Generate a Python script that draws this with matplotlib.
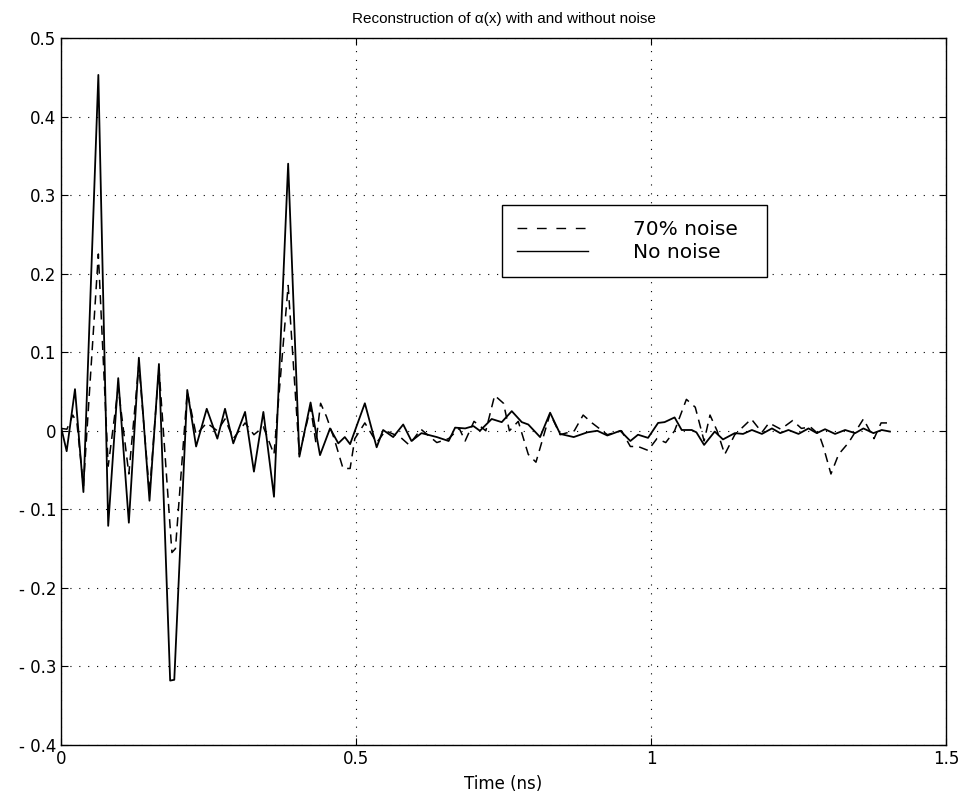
import matplotlib
matplotlib.use("Agg")
import matplotlib.pyplot as plt
from matplotlib.lines import Line2D

plt.rcParams['font.family'] = ['DejaVu Sans']

# ---- data ----
nonoise_x = [0.000, 0.0096, 0.0237, 0.038, 0.0633, 0.080, 0.097, 0.115, 0.132, 0.150,
             0.166, 0.185, 0.192, 0.214, 0.229, 0.247, 0.265, 0.278, 0.292, 0.312,
             0.327, 0.343, 0.361, 0.385, 0.404, 0.423, 0.439, 0.456, 0.470, 0.481,
             0.490, 0.515, 0.535, 0.546, 0.563, 0.580, 0.594, 0.611, 0.637, 0.657,
             0.668, 0.685, 0.699, 0.710, 0.730, 0.747, 0.764, 0.781, 0.792, 0.812,
             0.829, 0.846, 0.869, 0.892, 0.909, 0.926, 0.948, 0.965, 0.978, 0.995,
             1.012, 1.023, 1.040, 1.052, 1.069, 1.077, 1.090, 1.108, 1.122, 1.142,
             1.156, 1.171, 1.188, 1.205, 1.219, 1.233, 1.250, 1.267, 1.281, 1.295,
             1.312, 1.329, 1.346, 1.360, 1.377, 1.391, 1.405]
nonoise_y = [0.005, -0.026, 0.053, -0.078, 0.453, -0.121, 0.067, -0.117, 0.093, -0.089,
             0.085, -0.318, -0.317, 0.052, -0.020, 0.028, -0.010, 0.028, -0.016, 0.024,
             -0.052, 0.024, -0.084, 0.340, -0.033, 0.036, -0.031, 0.003, -0.016, -0.008,
             -0.017, 0.035, -0.021, 0.001, -0.008, 0.008, -0.013, -0.003, -0.008, -0.013,
             0.004, 0.003, 0.006, 0.000, 0.015, 0.011, 0.025, 0.011, 0.008, -0.008,
             0.023, -0.004, -0.008, -0.002, 0.000, -0.006, 0.000, -0.013, -0.005, -0.009,
             0.010, 0.011, 0.017, 0.001, 0.001, -0.002, -0.018, -0.001, -0.011, -0.003,
             -0.004, 0.001, -0.004, 0.003, -0.003, 0.001, -0.004, 0.003, -0.003, 0.002,
             -0.004, 0.001, -0.003, 0.003, -0.003, 0.001, -0.001]

noise_x = [0.000, 0.010, 0.020, 0.027, 0.038, 0.0633, 0.080, 0.097, 0.115, 0.132,
           0.150, 0.166, 0.188, 0.194, 0.214, 0.229, 0.247, 0.265, 0.278, 0.292,
           0.312, 0.327, 0.343, 0.361, 0.385, 0.404, 0.423, 0.432, 0.440, 0.450,
           0.463, 0.478, 0.490, 0.498, 0.515, 0.535, 0.550, 0.575, 0.590, 0.610,
           0.637, 0.657, 0.675, 0.685, 0.700, 0.720, 0.735, 0.750, 0.760, 0.775,
           0.792, 0.805, 0.829, 0.846, 0.870, 0.885, 0.900, 0.926, 0.950, 0.965,
           0.978, 0.995, 1.010, 1.025, 1.040, 1.060, 1.075, 1.090, 1.100, 1.112,
           1.125, 1.142, 1.170, 1.188, 1.200, 1.220, 1.240, 1.255, 1.270, 1.285,
           1.292, 1.305, 1.318, 1.335, 1.360, 1.378, 1.390, 1.405]
noise_y = [0.003, 0.002, 0.020, 0.010, -0.070, 0.225, -0.045, 0.055, -0.055, 0.085,
           -0.080, 0.080, -0.155, -0.150, 0.050, -0.005, 0.010, 0.000, 0.015, -0.010,
           0.010, -0.005, 0.005, -0.030, 0.185, -0.030, 0.030, -0.015, 0.035, 0.018,
           -0.010, -0.048, -0.048, -0.010, 0.010, -0.015, 0.000, -0.008, -0.018, 0.002,
           -0.015, -0.010, 0.003, -0.013, 0.012, 0.000, 0.045, 0.035, 0.000, 0.012,
           -0.030, -0.040, 0.022, -0.005, 0.000, 0.020, 0.010, -0.005, 0.000, -0.020,
           -0.020, -0.025, -0.010, -0.015, 0.000, 0.040, 0.030, -0.013, 0.020, 0.000,
           -0.030, -0.005, 0.015, -0.002, 0.010, 0.002, 0.013, 0.003, 0.005, -0.005,
           -0.020, -0.055, -0.030, -0.015, 0.015, -0.010, 0.010, 0.010]

x_ticks = [0, 0.5, 1, 1.5]
x_tick_labels = ['0', '0.5', '1', '1.5']
y_ticks = [-0.4, -0.3, -0.2, -0.1, 0, 0.1, 0.2, 0.3, 0.4, 0.5]
y_tick_labels = ['- 0.4', '- 0.3', '- 0.2', '- 0.1', '0', '0.1', '0.2', '0.3', '0.4', '0.5']

title = 'Reconstruction of \u03b1(x) with and without noise'
xlabel = 'Time (ns)'
legend_labels = ['70% noise', 'No noise']

# ---- figure ----
fig = plt.figure(figsize=(9.66, 8.0), dpi=100)
ax = fig.add_axes([61/966, 1 - 745/800, (946 - 61)/966, (745 - 38)/800])

ax.plot(noise_x, noise_y, color='black', lw=1.1, dashes=(6, 4))
ax.plot(nonoise_x, nonoise_y, color='black', lw=1.3)

ax.set_xlim(0, 1.5)
ax.set_ylim(-0.4, 0.5)
ax.set_xticks(x_ticks)
ax.set_xticklabels(x_tick_labels)
ax.set_yticks(y_ticks)
ax.set_yticklabels(y_tick_labels)
ax.tick_params(direction='in', top=True, right=True, length=5, width=0.8,
               labelsize=12, colors='black', pad=3.5)
for s in ax.spines.values():
    s.set_linewidth(1.0)
    s.set_color('black')

ax.grid(True, color='black', linestyle=(0, (1, 7)), linewidth=0.8)

ax.set_title(title, fontsize=11, pad=11, family=['Liberation Sans', 'DejaVu Sans'])
ax.set_xlabel(xlabel, fontsize=12, labelpad=5)

handles = [Line2D([], [], color='black', lw=1.0, dashes=(7, 7)),
           Line2D([], [], color='black', lw=1.0)]
x0 = (501.7 - 61) / 885
w = (767 - 501.7) / 885
y_bot = (745 - 278) / 707
h = (278 - 205) / 707
leg = ax.legend(handles, legend_labels, loc='upper left',
                bbox_to_anchor=(x0, y_bot, w, h), mode='expand',
                fontsize=14.5, handlelength=3.55, handletextpad=2.2,
                borderpad=0.75, labelspacing=0.2, frameon=True, fancybox=False,
                borderaxespad=0)
leg.get_frame().set_edgecolor('black')
leg.get_frame().set_linewidth(1.0)
leg.get_frame().set_alpha(1)

fig.savefig('out.png', dpi=100)
